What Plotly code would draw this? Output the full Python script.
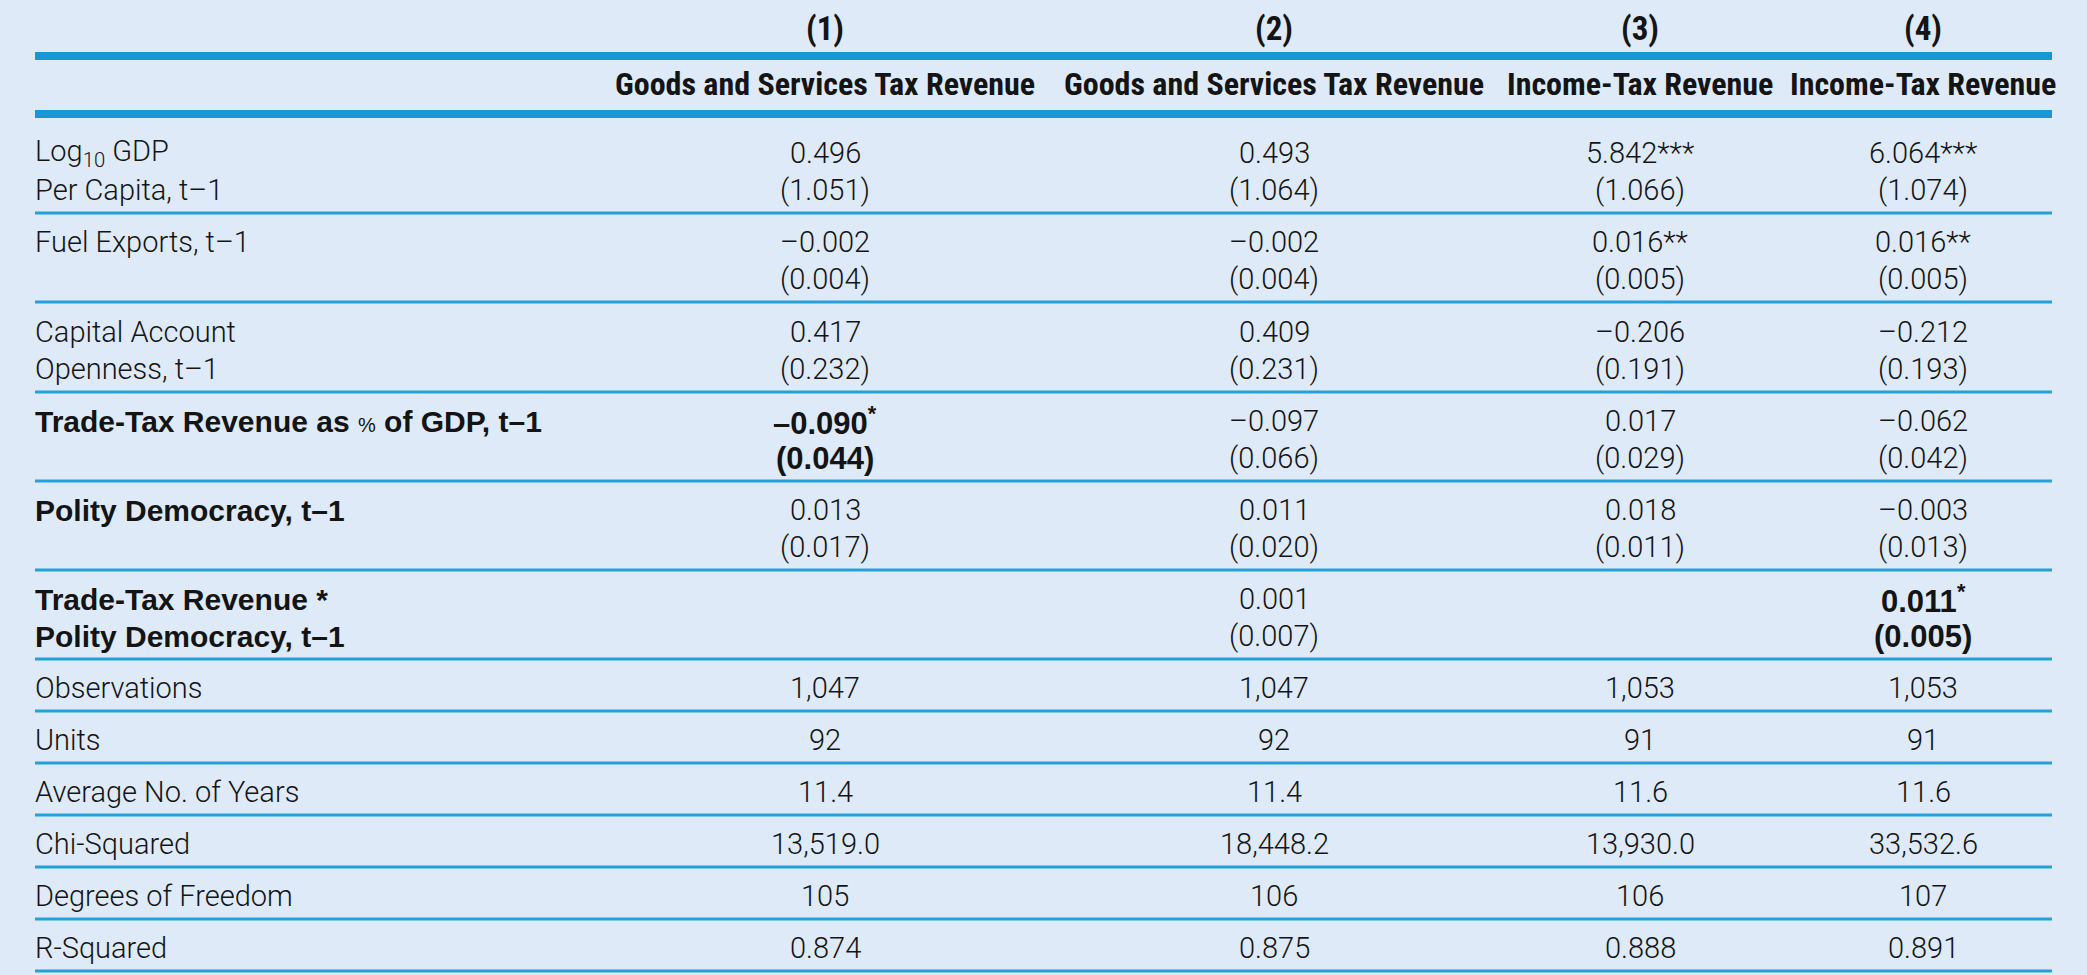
import plotly.graph_objects as go

# ------------------------------------------------------------------ data
model_numbers = ["(1)", "(2)", "(3)", "(4)"]
dependent_vars = [
    "Goods and Services Tax Revenue",
    "Goods and Services Tax Revenue",
    "Income-Tax Revenue",
    "Income-Tax Revenue",
]

coef_labels = [
    ["Log<sub>10</sub> GDP", "Per Capita, t–1"],
    ["Fuel Exports, t–1"],
    ["Capital Account", "Openness, t–1"],
    ["Trade-Tax Revenue as <span style='font-size:20px;font-weight:400'>%</span> of GDP, t–1"],
    ["Polity Democracy, t–1"],
    ["Trade-Tax Revenue *", "Polity Democracy, t–1"],
]
coef_label_bold = [False, False, False, True, True, True]

coef_1 = [0.496, -0.002, 0.417, -0.090, 0.013, None]
se_1 = [1.051, 0.004, 0.232, 0.044, 0.017, None]
stars_1 = [0, 0, 0, 1, 0, 0]
bold_1 = [False, False, False, True, False, False]

coef_2 = [0.493, -0.002, 0.409, -0.097, 0.011, 0.001]
se_2 = [1.064, 0.004, 0.231, 0.066, 0.020, 0.007]
stars_2 = [0, 0, 0, 0, 0, 0]
bold_2 = [False, False, False, False, False, False]

coef_3 = [5.842, 0.016, -0.206, 0.017, 0.018, None]
se_3 = [1.066, 0.005, 0.191, 0.029, 0.011, None]
stars_3 = [3, 2, 0, 0, 0, 0]
bold_3 = [False, False, False, False, False, False]

coef_4 = [6.064, 0.016, -0.212, -0.062, -0.003, 0.011]
se_4 = [1.074, 0.005, 0.193, 0.042, 0.013, 0.005]
stars_4 = [3, 2, 0, 0, 0, 1]
bold_4 = [False, False, False, False, False, True]

stat_labels = ["Observations", "Units", "Average No. of Years",
               "Chi-Squared", "Degrees of Freedom", "R-Squared"]
observations = [1047, 1047, 1053, 1053]
units = [92, 92, 91, 91]
avg_years = [11.4, 11.4, 11.6, 11.6]
chi_squared = [13519.0, 18448.2, 13930.0, 33532.6]
deg_freedom = [105, 106, 106, 107]
r_squared = [0.874, 0.875, 0.888, 0.891]

# ------------------------------------------------------------------ layout
W, H = 2087, 975
BG = "#DEEAF7"
RULE = "#1798D5"
THIN = "#24A0DA"
INK = "#141414"

HEAD_FONT = "Roboto Condensed, Liberation Sans, Arial, sans-serif"
BODY_FONT = "Roboto, Liberation Sans, Arial, sans-serif"
BOLD_FONT = "Liberation Sans, Arial, sans-serif"

X_LEFT, X_RIGHT = 35, 2052
LABEL_X = 33
COL_X = [825, 1274, 1640, 1923]

NUM_Y = 28
TITLE_Y = 84
THICK_LINES = [56, 114]
BODY_TOP = 118
COEF_ROW_H = [95, 89, 90, 89, 89, 89]
STAT_ROW_H = 52
LINE_GAP = 37


def fmt_coef(v, nd=3):
    s = f"{abs(v):.{nd}f}"
    return ("–" + s) if v < 0 else s


def star_str(n):
    if n == 1:
        return "<sup>*</sup>"
    return "*" * n


fig = go.Figure()
fig.add_trace(go.Scatter(x=[0, W], y=[0, H], mode="markers",
                         marker=dict(opacity=0), hoverinfo="skip",
                         showlegend=False))

annotations = []
shapes = []


def txt(x, y, text, family, size, weight="normal", anchor="center"):
    annotations.append(dict(
        x=x, y=y, xref="x", yref="y", text=text, showarrow=False,
        xanchor=anchor, yanchor="middle",
        font=dict(family=family, size=size, color=INK, weight=weight),
    ))


def hline(y, width, color):
    shapes.append(dict(type="line", xref="x", yref="y",
                       x0=X_LEFT, x1=X_RIGHT, y0=y, y1=y,
                       line=dict(color=color, width=width)))


# header
for cx, num, dep in zip(COL_X, model_numbers, dependent_vars):
    txt(cx, NUM_Y, num, HEAD_FONT, 33, "bold")
    txt(cx, TITLE_Y, dep, HEAD_FONT, 32, "bold")
for y in THICK_LINES:
    hline(y, 8, RULE)

# coefficient rows
columns = [
    (coef_1, se_1, stars_1, bold_1),
    (coef_2, se_2, stars_2, bold_2),
    (coef_3, se_3, stars_3, bold_3),
    (coef_4, se_4, stars_4, bold_4),
]
top = BODY_TOP
for r, h in enumerate(COEF_ROW_H):
    bottom = top + h
    y1 = bottom - 60
    y2 = y1 + LINE_GAP
    bold = coef_label_bold[r]
    for k, line in enumerate(coef_labels[r]):
        txt(LABEL_X, y1 + k * LINE_GAP, line,
            BOLD_FONT if bold else BODY_FONT, 30 if bold else 29,
            "bold" if bold else 300, anchor="left")
    for cx, (cf, se, st, bd) in zip(COL_X, columns):
        if cf[r] is None:
            continue
        c_txt = fmt_coef(cf[r]) + star_str(st[r])
        s_txt = "(" + f"{se[r]:.3f}" + ")"
        if bd[r]:
            txt(cx, y1, c_txt, BOLD_FONT, 31, "bold")
            txt(cx, y2, s_txt, BOLD_FONT, 31, "bold")
        else:
            txt(cx, y1, c_txt, BODY_FONT, 29, 300)
            txt(cx, y2, s_txt, BODY_FONT, 29, 300)
    hline(bottom, 3, THIN)
    top = bottom

# statistics rows
stat_values = [
    [f"{v:,}" for v in observations],
    [f"{v}" for v in units],
    [f"{v:.1f}" for v in avg_years],
    [f"{v:,.1f}" for v in chi_squared],
    [f"{v}" for v in deg_freedom],
    [f"{v:.3f}" for v in r_squared],
]
for label, vals in zip(stat_labels, stat_values):
    bottom = top + STAT_ROW_H
    yc = bottom - 23.5
    txt(LABEL_X, yc, label, BODY_FONT, 29, 300, anchor="left")
    for cx, v in zip(COL_X, vals):
        txt(cx, yc, v, BODY_FONT, 29, 300)
    hline(bottom, 3, THIN)
    top = bottom

fig.update_layout(
    width=W, height=H,
    margin=dict(l=0, r=0, t=0, b=0, pad=0),
    paper_bgcolor=BG, plot_bgcolor=BG,
    xaxis=dict(range=[0, W], visible=False, fixedrange=True),
    yaxis=dict(range=[H, 0], visible=False, fixedrange=True),
    annotations=annotations, shapes=shapes,
    showlegend=False,
)

fig.write_html("out.html", config={"displayModeBar": False},
               post_script="document.body.style.margin='0';document.body.style.overflow='hidden';")
